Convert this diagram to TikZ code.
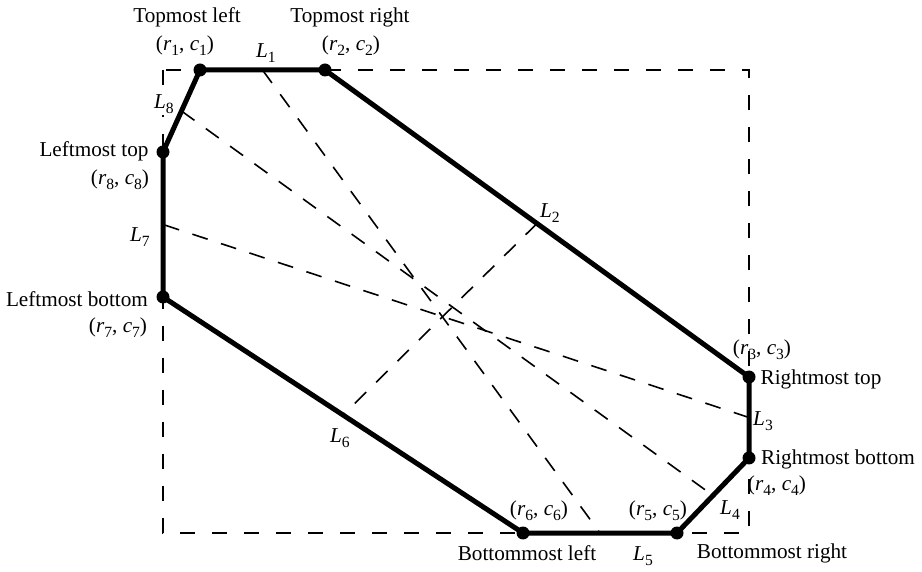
\documentclass[tikz,border=0pt]{standalone}
\usepackage{fontspec}
\setmainfont{Liberation Serif}
\usepackage{tikz}
\usetikzlibrary{calc}
\newcommand{\lowsub}[1]{\raisebox{-0.5ex}{\fontsize{7.8}{8}\selectfont #1}}
\newcommand{\vtx}[1]{(\textit{r}\lowsub{#1}, \textit{c}\lowsub{#1})}
\newcommand{\side}[1]{\textit{L}\lowsub{#1}}
\tikzstyle{hull} = [
    line width=2.5pt,
    line join=round
]
\tikzstyle{frame} = [
    line width=0.8pt,
    dash pattern=on 7.5pt off 8.5pt
]
\tikzstyle{divider} = [
    line width=0.8pt,
    dash pattern=on 8pt off 7pt
]
\tikzstyle{vertex} = [
    circle,
    fill=black,
    inner sep=0pt,
    minimum size=6.5pt
]
\tikzstyle{tag} = [
    inner sep=1pt,
    font=\fontsize{10.6}{12}\selectfont
]

\begin{document}
\begin{tikzpicture}[x=0.5pt, y=-0.5pt]
        \useasboundingbox (0,0) rectangle (922,572);
        % Corners
        \coordinate (p1) at (200, 70);
        \coordinate (p2) at (325, 70);
        \coordinate (p3) at (749, 377);
        \coordinate (p4) at (749, 458);
        \coordinate (p5) at (677, 533);
        \coordinate (p6) at (523, 533);
        \coordinate (p7) at (163, 297);
        \coordinate (p8) at (163, 152);
        
        % Midpoints of the sides
        \coordinate (m1) at ($(p1)!0.5!(p2)$);
        \coordinate (m2) at ($(p2)!0.5!(p3)$);
        \coordinate (m3) at ($(p3)!0.5!(p4)$);
        \coordinate (m4) at ($(p4)!0.5!(p5)$);
        \coordinate (m5) at ($(p5)!0.5!(p6)$);
        \coordinate (m6) at ($(p6)!0.5!(p7)$);
        \coordinate (m7) at ($(p7)!0.5!(p8)$);
        \coordinate (m8) at ($(p8)!0.5!(p1)$);
        
        % Box and dividers
        \draw[frame] (p8 |- p1) rectangle (p3 |- p5);
        \draw[divider] (m1) -- (m5);
        \draw[divider] (m2) -- (m6);
        \draw[divider] (m3) -- (m7);
        \draw[divider] (m8) -- (m4);
        
        % Outline
        \draw[hull] (p1) -- (p2) -- (p3) -- (p4) -- (p5) -- (p6) -- (p7) -- (p8) -- cycle;
        \node[vertex] (v1) at (p1) {};
        \node[vertex] (v2) at (p2) {};
        \node[vertex] (v3) at (p3) {};
        \node[vertex] (v4) at (p4) {};
        \node[vertex] (v5) at (p5) {};
        \node[vertex] (v6) at (p6) {};
        \node[vertex] (v7) at (p7) {};
        \node[vertex] (v8) at (p8) {};
        
        % Names
        \node[tag] (topleft) at (187, 17) {Topmost left};
        \node[tag] (topright) at (350, 17) {Topmost right};
        \node[tag] (lefttop) at (94, 151) {Leftmost top};
        \node[tag] (leftbottom) at (77, 299) {Leftmost bottom};
        \node[tag] (righttop) at (821, 379) {Rightmost top};
        \node[tag] (rightbottom) at (838, 459) {Rightmost bottom};
        \node[tag] (bottomleft) at (527, 553) {Bottommost left};
        \node[tag] (bottomright) at (772, 553) {Bottommost right};
        
        % Coordinates
        \node[tag] (c1) at (185, 46) {\vtx{1}};
        \node[tag] (c2) at (351, 46) {\vtx{2}};
        \node[tag] (c3) at (762, 350) {\vtx{3}};
        \node[tag] (c4) at (777, 486) {\vtx{4}};
        \node[tag] (c5) at (658, 511) {\vtx{5}};
        \node[tag] (c6) at (539, 511) {\vtx{6}};
        \node[tag] (c7) at (118, 328) {\vtx{7}};
        \node[tag] (c8) at (120, 180) {\vtx{8}};
        
        % Sides
        \node[tag] (s1) at (266, 53) {\side{1}};
        \node[tag] (s2) at (550, 213) {\side{2}};
        \node[tag] (s3) at (763, 421) {\side{3}};
        \node[tag] (s4) at (730, 510) {\side{4}};
        \node[tag] (s5) at (643, 556) {\side{5}};
        \node[tag] (s6) at (340, 438) {\side{6}};
        \node[tag] (s7) at (140, 237) {\side{7}};
        \node[tag, fill=white] (s8) at (164, 104) {\side{8}};
    \end{tikzpicture}
\end{document}
